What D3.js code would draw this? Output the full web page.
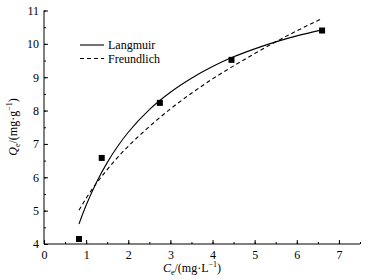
<!DOCTYPE html>
<html><head><meta charset="utf-8">
<script src="https://cdn.jsdelivr.net/npm/d3@7"></script>
<style>body{margin:0;background:#fff}svg{display:block}</style>
</head><body>
<script>
const ceData = [0.83, 1.37, 2.75, 4.45, 6.6];
const qeData = [4.15, 6.58, 8.23, 9.52, 10.4];
const fitC = [0.83, 1.0, 1.25, 1.5, 1.75, 2.0, 2.5, 3.0, 3.5, 4.0, 4.5, 5.0, 5.5, 6.0, 6.6];
const langmuirQ = [4.60, 5.16, 5.86, 6.44, 6.93, 7.35, 8.03, 8.55, 8.97, 9.32, 9.61, 9.85, 10.06, 10.24, 10.42];
const freundlichQ = [5.01, 5.37, 5.83, 6.23, 6.60, 6.93, 7.52, 8.05, 8.52, 8.95, 9.34, 9.71, 10.06, 10.39, 10.76];
const xTicks = [0, 1, 2, 3, 4, 5, 6, 7];
const yTicks = [4, 5, 6, 7, 8, 9, 10, 11];
const legendNames = ["Langmuir", "Freundlich"];

const FONT = "Liberation Serif";
const W = 370, H = 280;
const svg = d3.select("body").append("svg").attr("width", W).attr("height", H);
const x = d3.scaleLinear().domain([0, 7.5]).range([44, 360]);
const y = d3.scaleLinear().domain([4, 11]).range([244, 10.5]);

// axes
const xMinor = d3.range(0, 7.51, 0.5);
const yMinor = d3.range(4, 11.01, 0.5);
const gx = svg.append("g").attr("transform", `translate(0,${y(4)})`);
gx.call(d3.axisBottom(x).tickValues(xMinor).tickSize(-2).tickFormat(""));
gx.call(g => g.select(".domain").remove());
const gx2 = svg.append("g").attr("transform", `translate(0,${y(4)})`);
gx2.call(d3.axisBottom(x).tickValues(xTicks).tickSize(-4).tickFormat(d3.format("d")));
gx2.select(".domain").attr("d", `M${x(0)},0H${x(7.5)}`);
gx2.selectAll("text").attr("font-size", 12).attr("dy", "0.71em").attr("y", 6);

const gy = svg.append("g").attr("transform", `translate(${x(0)},0)`);
gy.call(d3.axisLeft(y).tickValues(yMinor).tickSize(-2).tickFormat(""));
gy.call(g => g.select(".domain").remove());
const gy2 = svg.append("g").attr("transform", `translate(${x(0)},0)`);
gy2.call(d3.axisLeft(y).tickValues(yTicks).tickSize(-4).tickFormat(d3.format("d")));
gy2.select(".domain").attr("d", `M0,${y(4)}V${y(11)}`);
gy2.selectAll("text").attr("font-size", 12).attr("x", -5);
svg.selectAll("g").attr("font-family", null);
svg.selectAll(".domain, .tick line").attr("stroke", "#000").attr("stroke-width", 1);

// axis titles
const xt = svg.append("text").attr("x", 192).attr("y", 272).attr("text-anchor", "middle").attr("font-size", 12);
xt.append("tspan").attr("font-style", "italic").text("C");
xt.append("tspan").attr("font-size", 8).attr("dy", 3).text("e");
xt.append("tspan").attr("dy", -3).text("/(mg·L");
xt.append("tspan").attr("font-size", 8).attr("dy", -5).text("−1");
xt.append("tspan").attr("dy", 5).text(")");

const yt = svg.append("text").attr("transform", "translate(17,127) rotate(-90)").attr("text-anchor", "middle").attr("font-size", 12);
yt.append("tspan").attr("font-style", "italic").text("Q");
yt.append("tspan").attr("font-size", 8).attr("dy", 3).text("e");
yt.append("tspan").attr("dy", -3).text("/(mg·g");
yt.append("tspan").attr("font-size", 8).attr("dy", -5).text("−1");
yt.append("tspan").attr("dy", 5).text(")");

// curves
const line = d3.line().curve(d3.curveMonotoneX);
svg.append("path").attr("d", line(fitC.map((c, i) => [x(c), y(langmuirQ[i])])))
  .attr("fill", "none").attr("stroke", "#000").attr("stroke-width", 1.1);
svg.append("path").attr("d", line(fitC.map((c, i) => [x(c), y(freundlichQ[i])])))
  .attr("fill", "none").attr("stroke", "#000").attr("stroke-width", 1.1).attr("stroke-dasharray", "4,3");

// points
svg.selectAll("rect.pt").data(ceData).enter().append("rect").attr("class", "pt")
  .attr("x", d => x(d) - 3).attr("y", (d, i) => y(qeData[i]) - 3)
  .attr("width", 6).attr("height", 6).attr("fill", "#000");

// legend
const lg = svg.append("g");
legendNames.forEach((n, i) => {
  const ly = 45 + i * 13.5;
  lg.append("line").attr("x1", 80).attr("x2", 104).attr("y1", ly).attr("y2", ly)
    .attr("stroke", "#000").attr("stroke-width", 1.1).attr("stroke-dasharray", i ? "4,3" : null);
  lg.append("text").attr("x", 108).attr("y", ly + 4).attr("font-size", 12).text(n);
});

svg.selectAll("text").attr("font-family", FONT).attr("fill", "#000");
</script>
</body></html>
